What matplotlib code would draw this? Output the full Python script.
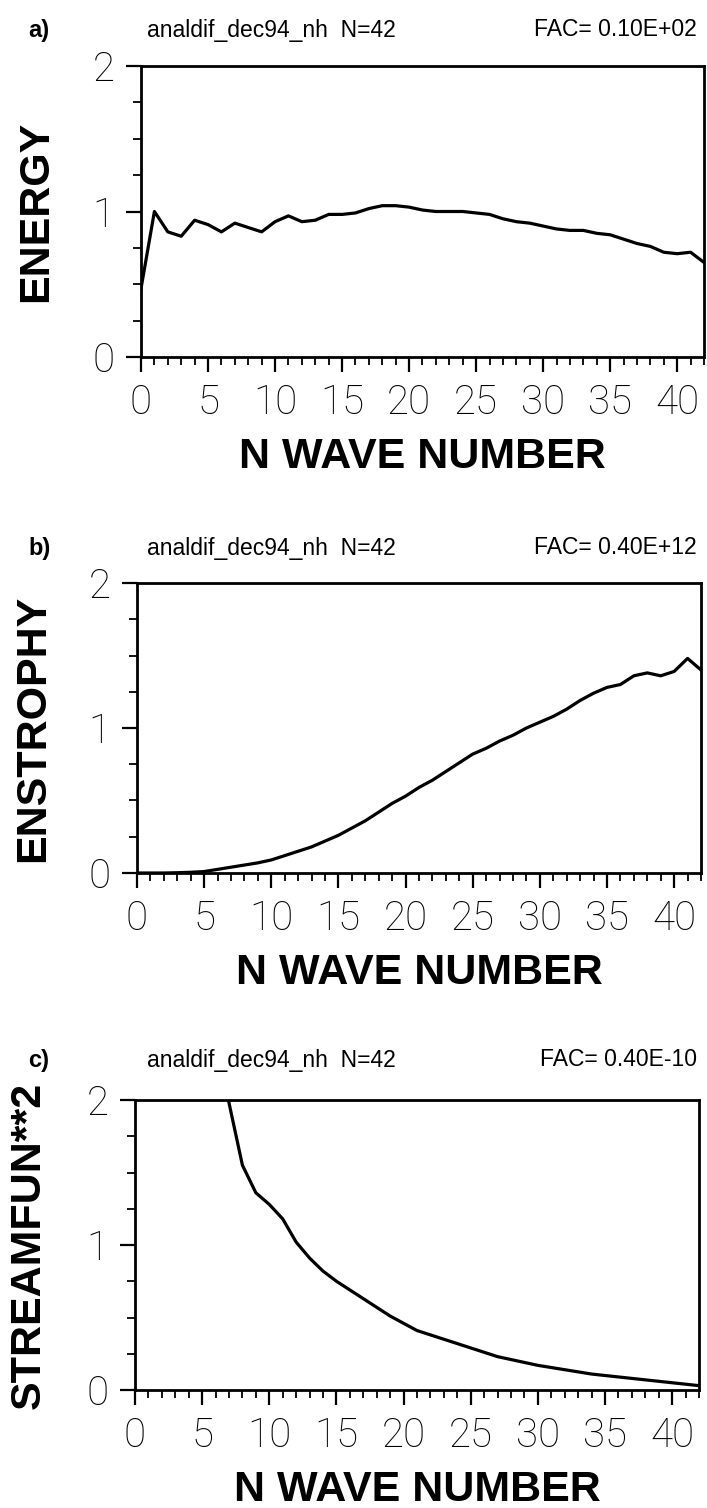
import numpy as np
import matplotlib
matplotlib.use("Agg")
import matplotlib.pyplot as plt
from matplotlib.ticker import MultipleLocator, FixedLocator

# wave numbers
n_wave = list(range(0, 43))

# a) energy, FAC = 0.10E+02
energy = [0.47, 1.00, 0.86, 0.83, 0.94, 0.91, 0.86, 0.92, 0.89, 0.86,
          0.93, 0.97, 0.93, 0.94, 0.98, 0.98, 0.99, 1.02, 1.04, 1.04,
          1.03, 1.01, 1.00, 1.00, 1.00, 0.99, 0.98, 0.95, 0.93, 0.92,
          0.90, 0.88, 0.87, 0.87, 0.85, 0.84, 0.81, 0.78, 0.76, 0.72,
          0.71, 0.72, 0.65]

# b) enstrophy, FAC = 0.40E+12
enstrophy = [0.0, 0.0, 0.0, 0.002, 0.005, 0.01, 0.025, 0.04, 0.055, 0.07,
             0.09, 0.12, 0.15, 0.18, 0.22, 0.26, 0.31, 0.36, 0.42, 0.48,
             0.53, 0.59, 0.64, 0.70, 0.76, 0.82, 0.86, 0.91, 0.95, 1.00,
             1.04, 1.08, 1.13, 1.19, 1.24, 1.28, 1.30, 1.36, 1.38, 1.36,
             1.39, 1.48, 1.40]

# c) streamfunction squared, FAC = 0.40E-10 (goes off the top below n=7)
n_stream = list(range(6, 43))
streamfun2 = [2.45, 1.98, 1.55, 1.36, 1.28, 1.18, 1.02, 0.91, 0.82, 0.75,
              0.69, 0.63, 0.57, 0.51, 0.46, 0.41, 0.38, 0.35, 0.32, 0.29,
              0.26, 0.23, 0.21, 0.19, 0.17, 0.155, 0.14, 0.125, 0.11, 0.10,
              0.09, 0.08, 0.07, 0.06, 0.05, 0.04, 0.03]

panel_tags = ["a)", "b)", "c)"]
run_name = "analdif_dec94_nh  N=42"
fac_texts = ["FAC= 0.10E+02", "FAC= 0.40E+12", "FAC= 0.40E-10"]
ylabels = ["ENERGY", "ENSTROPHY", "STREAMFUN**2"]
xticks = [0, 5, 10, 15, 20, 25, 30, 35, 40]

W, H = 707, 1508
# axes boxes in pixels: left, right, top, bottom
boxes = [(141, 704, 66, 357), (137, 701, 583, 873), (135, 699, 1100, 1390)]
title_y = [30, 548, 1060]
ylab_x = [36, 33, 29]

fig = plt.figure(figsize=(W / 100, H / 100), dpi=100)
fig.patch.set_facecolor("white")

series = [(n_wave, energy), (n_wave, enstrophy), (n_stream, streamfun2)]
sans = ["Liberation Sans", "DejaVu Sans"]

for i, (l, r, t, b) in enumerate(boxes):
    ax = fig.add_axes([l / W, 1 - b / H, (r - l) / W, (b - t) / H])
    x, y = series[i]
    ax.plot(x, y, color="black", lw=2.3, solid_joinstyle="round")
    ax.set_xlim(0, 42)
    ax.set_ylim(0, 2)

    for sp in ax.spines.values():
        sp.set_linewidth(2.0)

    ax.xaxis.set_major_locator(FixedLocator(xticks))
    ax.xaxis.set_minor_locator(MultipleLocator(1))
    ax.yaxis.set_major_locator(FixedLocator([0, 1, 2]))
    ax.yaxis.set_minor_locator(MultipleLocator(0.25))
    ax.tick_params(which="major", direction="out", length=11, width=1.6,
                   labelsize=29, pad=8)
    ax.tick_params(which="minor", direction="out", length=6, width=1.3)
    for lab in ax.get_xticklabels() + ax.get_yticklabels():
        lab.set_family(["Roboto", "Liberation Sans", "DejaVu Sans"])
        lab.set_fontweight("light")

    ax.set_xlabel("N WAVE NUMBER", fontsize=31, fontweight="bold", family=sans)
    ax.xaxis.label.set_va("center")
    ax.xaxis.set_label_coords(0.5, -100 / (b - t))

    ax.set_ylabel(ylabels[i], fontsize=31, fontweight="bold", family=sans)
    ax.yaxis.label.set_va("center")
    ax.yaxis.set_label_coords(-(l - ylab_x[i]) / (r - l), 0.5)

    ty = 1 - title_y[i] / H
    fig.text(28 / W, ty, panel_tags[i], fontsize=17, fontweight="bold",
             family=sans, va="center")
    fig.text(147 / W, ty, run_name, fontsize=16.5, family=sans, va="center")
    fig.text(697 / W, ty, fac_texts[i], fontsize=16.5, ha="right",
             family=sans, va="center")

fig.savefig("out.png", dpi=100)
